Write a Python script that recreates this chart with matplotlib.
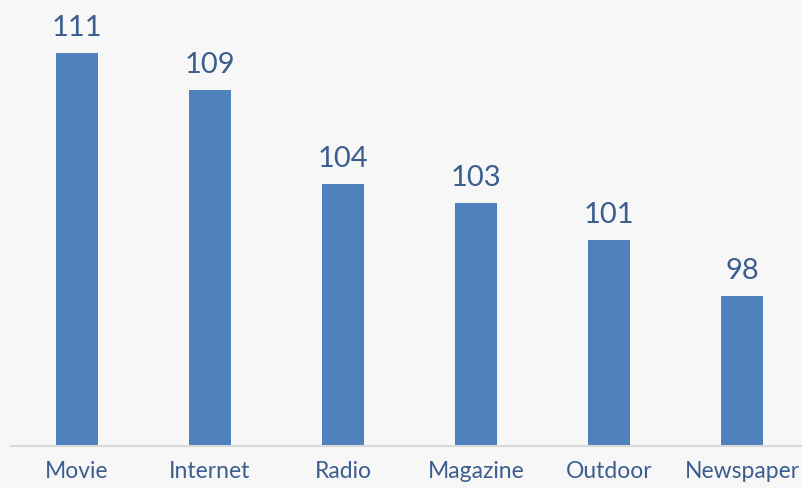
import matplotlib.pyplot as plt

categories = ["Movie", "Internet", "Radio", "Magazine", "Outdoor", "Newspaper"]
values = [111, 109, 104, 103, 101, 98]

bar_color = "#4F81BD"
text_color = "#3B5E8F"
bg = "#F7F7F7"

fig = plt.figure(figsize=(8.03, 4.89), dpi=100, facecolor=bg)
ax = fig.add_axes([10.5 / 803, 1 - 447 / 489, 798 / 803, 0.85])
ax.set_facecolor(bg)

x = range(len(categories))
bars = ax.bar(x, values, width=0.312, color=bar_color, zorder=2)

ax.set_xlim(-0.5, len(categories) - 0.5)
ax.set_ylim(90, 112.2)

for b, v in zip(bars, values):
    ax.annotate(str(v), (b.get_x() + b.get_width() / 2, v), xytext=(0, 13),
                textcoords="offset points", ha="center", va="baseline",
                fontsize=21, color=text_color, family="Lato", annotation_clip=False)

ax.set_xticks(list(x))
ax.set_xticklabels(categories, fontsize=16.5, color=text_color, family="Lato")
ax.tick_params(axis="x", length=0, pad=10)
ax.set_yticks([])
for s in ["top", "right", "left"]:
    ax.spines[s].set_visible(False)
ax.spines["bottom"].set_color("#D9D9D9")
ax.spines["bottom"].set_linewidth(1.5)

fig.savefig("out.png", dpi=100, facecolor=bg)
